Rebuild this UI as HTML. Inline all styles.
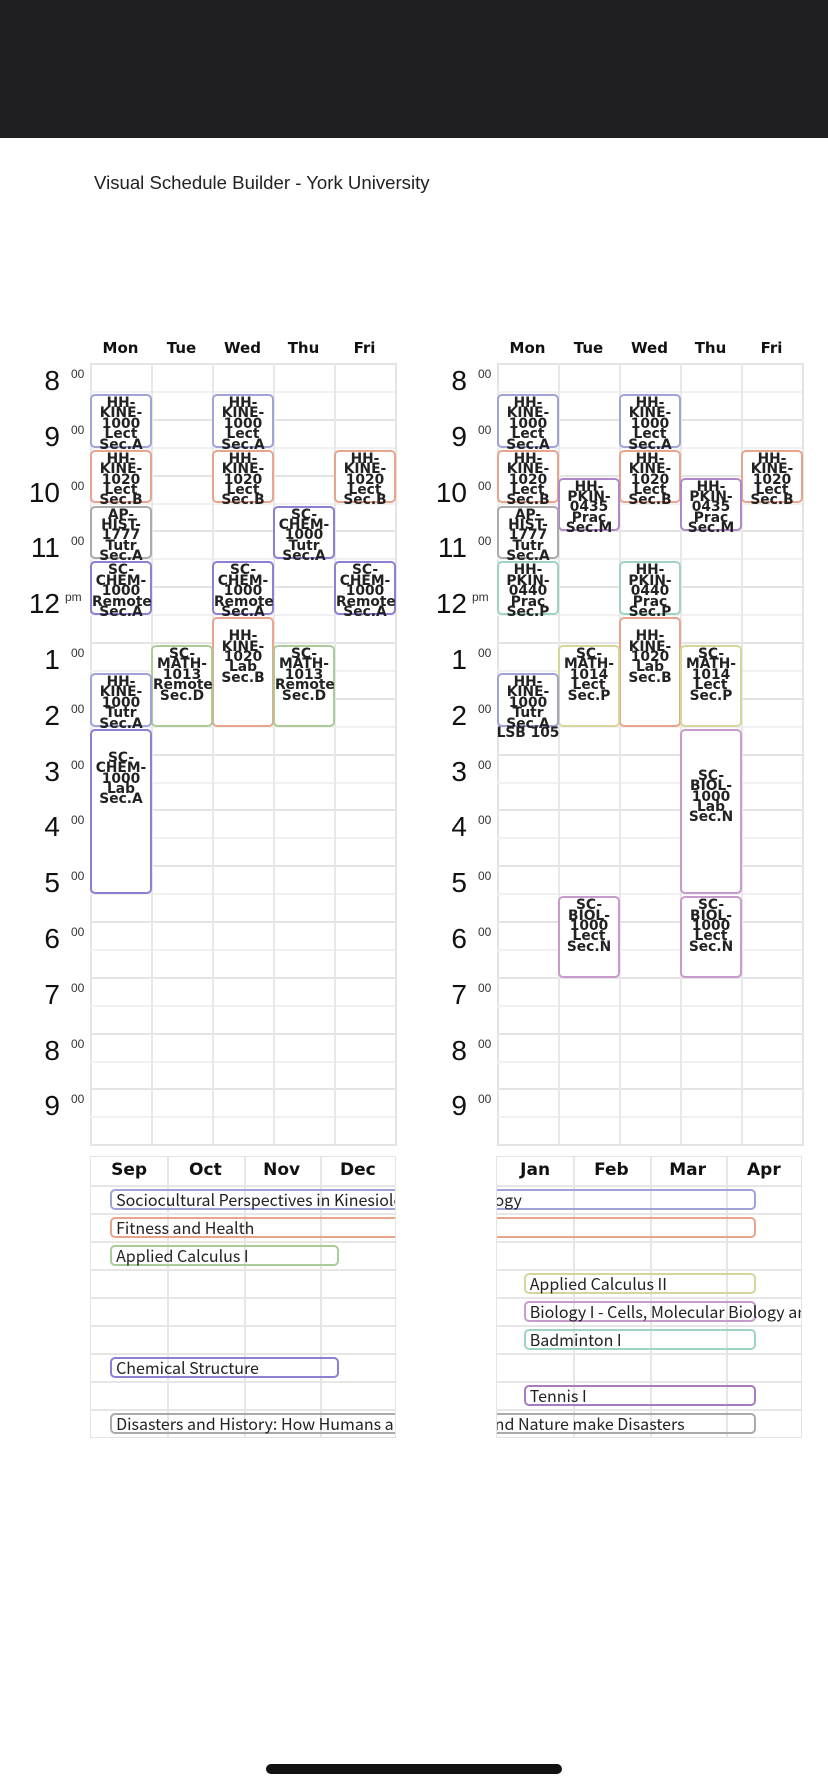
<!DOCTYPE html>
<html><head><meta charset="utf-8">
<style>
body{margin:0;width:828px;height:1792px;background:#fff;position:relative;overflow:hidden;font-family:"Liberation Sans",sans-serif}
.abs{position:absolute}
.grid{position:absolute;border:2px solid #e4e4e4;box-sizing:border-box;background:#fff}
.ev{position:absolute;box-sizing:border-box;border:2px solid;border-radius:5px;background:#fff;text-align:center;font-family:"DejaVu Sans",sans-serif;font-weight:bold;font-size:13.8px;line-height:10.4px;color:#222;overflow:visible}
.hr{position:absolute;font-size:28px;color:#111;text-align:right;width:50px}
.sup{position:absolute;font-size:12px;color:#333}
.dh{position:absolute;width:61px;text-align:center;font-weight:bold;font-size:15px;font-family:"DejaVu Sans",sans-serif;color:#111}
.tl{position:absolute;overflow:hidden;border:1px solid #e4e4e4;box-sizing:border-box;background:#fff}
.bar{position:absolute;box-sizing:border-box;border:2px solid;border-radius:5px;height:21px;font-family:"Noto Sans CJK JP","DejaVu Sans",sans-serif;font-size:16px;line-height:17px;color:#222;white-space:nowrap;padding-left:4px;overflow:visible}
</style></head><body>
<div class="abs" style="left:0;top:0;width:828px;height:138px;background:#1e1e20"></div>
<div class="abs" style="left:94px;top:172px;font-size:18.6px;color:#222">Visual Schedule Builder - York University</div>
<div id="root"></div>
<div class="abs" style="left:266px;top:1764px;width:296px;height:10px;border-radius:5px;background:#111"></div>
<script>
const days=["Mon","Tue","Wed","Thu","Fri"];
const hourLabels=["8","9","10","11","12","1","2","3","4","5","6","7","8","9"];
const hourSuffix=["00","00","00","00","pm","00","00","00","00","00","00","00","00","00"];
// Fall term events
const fallCodes=["HH-KINE-1000 Lect Sec.A","HH-KINE-1000 Lect Sec.A","HH-KINE-1020 Lect Sec.B","HH-KINE-1020 Lect Sec.B","HH-KINE-1020 Lect Sec.B","AP-HIST-1777 Tutr Sec.A","SC-CHEM-1000 Tutr Sec.A","SC-CHEM-1000 Remote Sec.A","SC-CHEM-1000 Remote Sec.A","SC-CHEM-1000 Remote Sec.A","HH-KINE-1020 Lab Sec.B","SC-MATH-1013 Remote Sec.D","SC-MATH-1013 Remote Sec.D","HH-KINE-1000 Tutr Sec.A","SC-CHEM-1000 Lab Sec.A"];
const fallDays=[0,2,0,2,4,0,3,0,2,4,2,1,3,0,0];
const fallStarts=[8.5,8.5,9.5,9.5,9.5,10.5,10.5,11.5,11.5,11.5,12.5,13,13,13.5,14.5];
const fallEnds=[9.5,9.5,10.5,10.5,10.5,11.5,11.5,12.5,12.5,12.5,14.5,14.5,14.5,14.5,17.5];
const fallRooms=["","","","","","","","","","","","","","",""];
const fallColors=["#9fa3d8","#9fa3d8","#e8a48c","#e8a48c","#e8a48c","#aaaaaa","#8c7fd4","#8c7fd4","#8c7fd4","#8c7fd4","#e8a48c","#a9cc98","#a9cc98","#9fa3d8","#8c7fd4"];
const fallPad=[2,2,2,2,2,2,2,2,2,2,12,2,2,2,22];
// Winter term events
const winCodes=["HH-KINE-1000 Lect Sec.A","HH-KINE-1000 Lect Sec.A","HH-KINE-1020 Lect Sec.B","HH-KINE-1020 Lect Sec.B","HH-KINE-1020 Lect Sec.B","HH-PKIN-0435 Prac Sec.M","HH-PKIN-0435 Prac Sec.M","AP-HIST-1777 Tutr Sec.A","HH-PKIN-0440 Prac Sec.P","HH-PKIN-0440 Prac Sec.P","HH-KINE-1020 Lab Sec.B","SC-MATH-1014 Lect Sec.P","SC-MATH-1014 Lect Sec.P","HH-KINE-1000 Tutr Sec.A","SC-BIOL-1000 Lab Sec.N","SC-BIOL-1000 Lect Sec.N","SC-BIOL-1000 Lect Sec.N"];
const winDays=[0,2,0,2,4,1,3,0,0,2,2,1,3,0,3,1,3];
const winStarts=[8.5,8.5,9.5,9.5,9.5,10,10,10.5,11.5,11.5,12.5,13,13,13.5,14.5,17.5,17.5];
const winEnds=[9.5,9.5,10.5,10.5,10.5,11,11,11.5,12.5,12.5,14.5,14.5,14.5,14.5,17.5,19,19];
const winRooms=["","","","","","","","","","","","","","LSB 105","","",""];
const winColors=["#9fa3d8","#9fa3d8","#e8a48c","#e8a48c","#e8a48c","#b088c8","#b088c8","#aaaaaa","#9fd4bf","#9fd4bf","#e8a48c","#d6d69a","#d6d69a","#9fa3d8","#c99bcd","#c99bcd","#c99bcd"];
const winPad=[2,2,2,2,2,2,2,2,2,2,12,2,2,2,40,2,2];
// Term timeline
const months=["Sep","Oct","Nov","Dec","Jan","Feb","Mar","Apr"];
const courseNames=["Sociocultural Perspectives in Kinesiology","Fitness and Health","Applied Calculus I","Applied Calculus II","Biology I - Cells, Molecular Biology and Genetics","Badminton I","Chemical Structure","Tennis I","Disasters and History: How Humans and Nature make Disasters"];
const courseStartMonth=[0.25,0.25,0.25,4.35,4.35,4.35,0.25,4.35,0.25];
const courseEndMonth=[7.4,7.4,3.25,7.4,7.4,7.4,3.25,7.4,7.4];
const courseColors=["#9fa3d8","#e8a48c","#a9cc98","#d6d69a","#c99bcd","#9fd4bf","#8c7fd4","#a67cbc","#aaaaaa"];

const root=document.getElementById('root');
const GT=363, HH=55.8, CW=61;
function mk(cls,parent){const d=document.createElement('div');d.className=cls;parent.appendChild(d);return d;}
function drawWeek(gx,labelRight,codes,dd,st,en,rooms,col,pad,name){
  const yOf=t=>GT+(t-8)*HH;
  const xOf=d=>gx+d*CW;
  days.forEach((d,i)=>{const h=mk('dh',root);h.style.left=xOf(i)+'px';h.style.top='339px';h.textContent=d;
    
    });
  const g=mk('grid',root);g.style.left=gx+'px';g.style.top=GT+'px';g.style.width=(CW*5+2)+'px';g.style.height=(HH*14+2)+'px';
  
  
  for(let k=1;k<28;k++){const l=mk('abs',root);l.style.left=gx+'px';l.style.top=(yOf(8+k/2))+'px';l.style.width=(CW*5)+'px';l.style.height='2px';l.style.background=k%2?'#f1f1f1':'#e4e4e4';
    
    }
  for(let k=1;k<5;k++){const l=mk('abs',root);l.style.left=xOf(k)+'px';l.style.top=GT+'px';l.style.width='2px';l.style.height=(HH*14)+'px';l.style.background='#e8e8e8';
    
    }
  hourLabels.forEach((h,i)=>{const a=mk('hr',root);a.style.left=(labelRight-50)+'px';a.style.top=(yOf(8+i)+2)+'px';a.textContent=h;
    
    
    const s=mk('sup',root);s.style.left=(labelRight+(hourSuffix[i]=='pm'?5:11))+'px';s.style.top=(yOf(8+i)+4)+'px';s.textContent=hourSuffix[i];
    
    });
  codes.forEach((c,i)=>{const e=mk('ev',root);const y0=yOf(st[i])+3,y1=yOf(en[i])+1;
    e.style.left=xOf(dd[i])+'px';e.style.top=y0+'px';e.style.width=(CW+1)+'px';e.style.height=(y1-y0)+'px';
    e.style.borderColor=col[i];e.style.paddingTop=pad[i]+'px';
    e.innerHTML=c.split(' ').join('<br>');
    
    
    if(rooms[i]){const r=mk('ev',root);r.style.border='none';r.style.background='transparent';r.style.whiteSpace='nowrap';r.style.left=(xOf(dd[i])-6)+'px';r.style.top=(y1+1)+'px';r.style.width=(CW+13)+'px';r.textContent=rooms[i];
      
      }
  });
}
drawWeek(90,60,fallCodes,fallDays,fallStarts,fallEnds,fallRooms,fallColors,fallPad,'fall-week');
drawWeek(497,467,winCodes,winDays,winStarts,winEnds,winRooms,winColors,winPad,'winter-week');

const MW=76.25, TT=1156, RH=28;
function drawTerm(px,offMonth,name){
  const p=mk('tl',root);p.style.left=px+'px';p.style.top=TT+'px';p.style.width='306px';p.style.height=(RH*10+2)+'px';
  
  
  for(let k=1;k<10;k++){const l=mk('abs',p);l.style.left='0';l.style.top=(k*RH)+'px';l.style.width='306px';l.style.height='2px';l.style.background='#e6e6e6';
    
    }
  for(let k=1;k<4;k++){const l=mk('abs',p);l.style.left=(k*MW)+'px';l.style.top='0';l.style.width='2px';l.style.height=(RH*10)+'px';l.style.background='#e6e6e6';
    
    }
  months.slice(offMonth,offMonth+4).forEach((m,i)=>{const h=mk('abs',p);h.style.left=(i*MW)+'px';h.style.width=MW+'px';h.style.top='3px';h.style.textAlign='center';h.style.fontWeight='bold';h.style.fontSize='17px';h.style.fontFamily='"DejaVu Sans",sans-serif';h.style.color='#111';h.textContent=m;
    
    });
  courseNames.forEach((n,i)=>{const b=mk('bar',p);b.style.left=((courseStartMonth[i]-offMonth)*MW)+'px';b.style.width=((courseEndMonth[i]-courseStartMonth[i])*MW)+'px';
    b.style.top=((i+1)*RH+4)+'px';b.style.borderColor=courseColors[i];b.textContent=n;
    
    });
}
drawTerm(90,0,'fall-term-timeline');
drawTerm(496,4,'winter-term-timeline');
</script>
</body></html>
